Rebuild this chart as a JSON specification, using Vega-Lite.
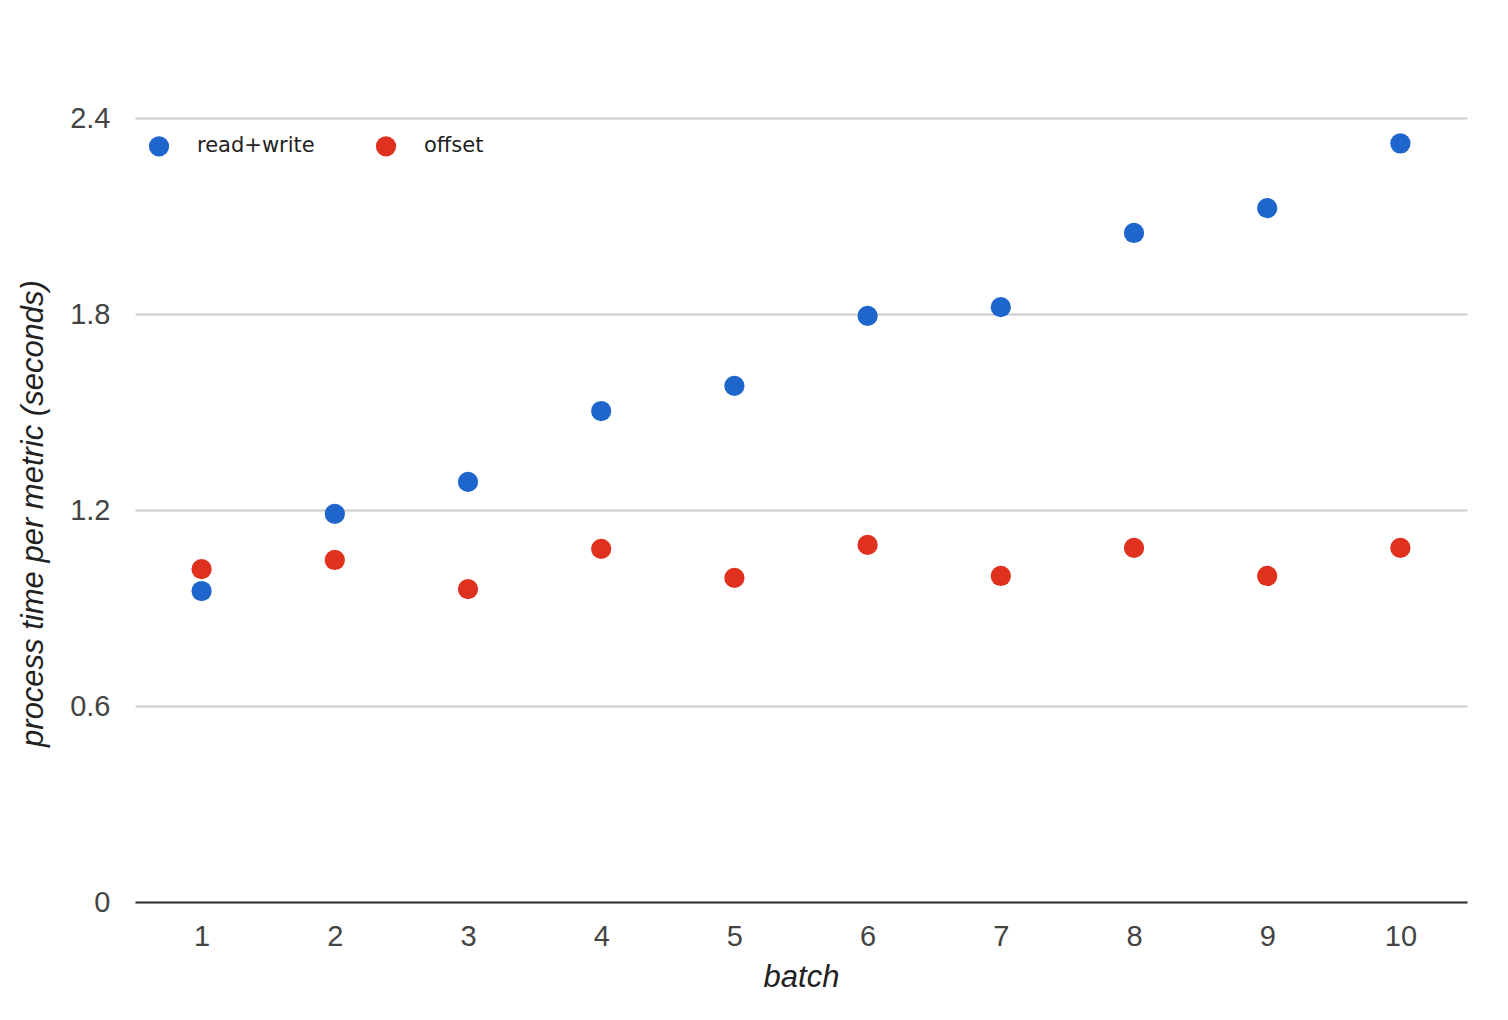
{
  "$schema": "https://vega.github.io/schema/vega-lite/v6.json",
  "autosize": "none",
  "width": 1332,
  "height": 784,
  "padding": {"left": 135, "top": 118, "right": 41, "bottom": 118},
  "background": "white",
  "data": {
    "values": [
      {"batch": 1, "series": "read+write", "time": 0.952},
      {"batch": 2, "series": "read+write", "time": 1.188},
      {"batch": 3, "series": "read+write", "time": 1.286},
      {"batch": 4, "series": "read+write", "time": 1.503},
      {"batch": 5, "series": "read+write", "time": 1.58},
      {"batch": 6, "series": "read+write", "time": 1.794},
      {"batch": 7, "series": "read+write", "time": 1.821},
      {"batch": 8, "series": "read+write", "time": 2.048},
      {"batch": 9, "series": "read+write", "time": 2.124},
      {"batch": 10, "series": "read+write", "time": 2.322},
      {"batch": 1, "series": "offset", "time": 1.019},
      {"batch": 2, "series": "offset", "time": 1.047},
      {"batch": 3, "series": "offset", "time": 0.958},
      {"batch": 4, "series": "offset", "time": 1.081},
      {"batch": 5, "series": "offset", "time": 0.992},
      {"batch": 6, "series": "offset", "time": 1.093},
      {"batch": 7, "series": "offset", "time": 0.998},
      {"batch": 8, "series": "offset", "time": 1.084},
      {"batch": 9, "series": "offset", "time": 0.998},
      {"batch": 10, "series": "offset", "time": 1.084}
    ]
  },
  "mark": {"type": "circle", "size": 410, "opacity": 1},
  "encoding": {
    "x": {
      "field": "batch",
      "type": "ordinal",
      "scale": {"type": "point", "padding": 0.5},
      "axis": {
        "title": "batch",
        "labelAngle": 0,
        "ticks": false,
        "grid": false,
        "domainColor": "#333333",
        "domainWidth": 2,
        "labelPadding": 20,
        "labelFont": "Liberation Sans",
        "labelFontSize": 29,
        "labelColor": "#444444",
        "titleFont": "Liberation Sans",
        "titleFontSize": 31,
        "titleFontStyle": "italic",
        "titleFontWeight": "normal",
        "titleColor": "#222222",
        "titleY": 75,
        "titleBaseline": "middle"
      }
    },
    "y": {
      "field": "time",
      "type": "quantitative",
      "scale": {"domain": [0, 2.4], "nice": false, "zero": true},
      "axis": {
        "title": "process time per metric (seconds)",
        "values": [0, 0.6, 1.2, 1.8, 2.4],
        "format": "~g",
        "ticks": false,
        "domain": false,
        "gridColor": "#cccccc",
        "gridWidth": 2,
        "labelPadding": 25,
        "labelFont": "Liberation Sans",
        "labelFontSize": 29,
        "labelColor": "#444444",
        "titleFont": "Liberation Sans",
        "titleFontSize": 31,
        "titleFontStyle": "italic",
        "titleFontWeight": "normal",
        "titleColor": "#222222",
        "titleX": -102,
        "titleY": 395,
        "titleAngle": -90,
        "titleAlign": "center",
        "titleBaseline": "middle"
      }
    },
    "color": {
      "field": "series",
      "type": "nominal",
      "scale": {"domain": ["read+write", "offset"], "range": ["#1f66cc", "#e0301e"]},
      "legend": {
        "title": null,
        "orient": "none",
        "direction": "horizontal",
        "legendX": 13,
        "legendY": 17,
        "padding": 0,
        "symbolType": "circle",
        "symbolSize": 410,
        "symbolOpacity": 1,
        "labelOffset": 27,
        "columnPadding": 60,
        "labelFont": "DejaVu Sans",
        "labelFontSize": 21,
        "labelColor": "#222222"
      }
    }
  },
  "config": {"view": {"stroke": null}}
}
